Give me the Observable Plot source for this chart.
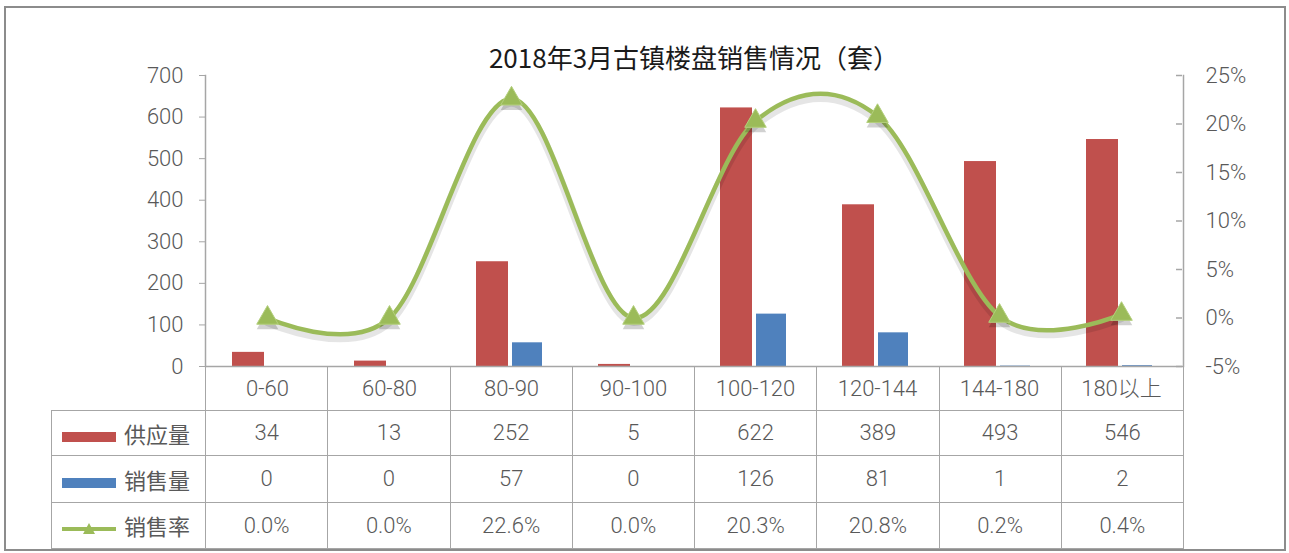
<!DOCTYPE html>
<html>
<head>
<meta charset="utf-8">
<script src="https://cdn.jsdelivr.net/npm/d3@7"></script>
<script src="https://cdn.jsdelivr.net/npm/@observablehq/plot@0.6"></script>
<style>
  body { margin: 0; background: #fff; }
  #wrap { position: relative; width: 1289px; height: 553px; overflow: hidden; background: #fff;
          font-family: Roboto, "Noto Sans CJK SC", sans-serif; }
  #frame { position: absolute; left: 4px; top: 6px; width: 1282px; height: 545px;
           border: 2.5px solid #8c8c8c; box-sizing: border-box; }
  #title { position: absolute; left: 205px; width: 978px; top: 38px; text-align: center;
           font-family: "Noto Sans CJK SC", sans-serif; font-size: 26px; color: #1a1a1a; font-weight: 400; }
  #chart { position: absolute; left: 0; top: 0; z-index: 2; }
  #tbl { position: absolute; left: 51px; top: 366px; z-index: 1; border-collapse: collapse; table-layout: fixed; }
  #tbl td { border: 1.5px solid #a6a6a6; text-align: center; font-size: 22px; color: #595959; padding: 0; font-weight: 300; }
  #tbl td.leg { text-align: left; padding-left: 10px; font-family: "Noto Sans CJK SC", sans-serif; white-space: nowrap; font-weight: 400; }
  .key { display: inline-block; width: 54px; height: 10px; vertical-align: middle; margin-right: 8px; }
</style>
</head>
<body>
<div id="wrap">
  <div id="frame"></div>
  <div id="title">2018年3月古镇楼盘销售情况（套）</div>
  <div id="chart"></div>
  <table id="tbl"></table>
</div>
<script>
const categories = ["0-60", "60-80", "80-90", "90-100", "100-120", "120-144", "144-180", "180以上"];
const supply = [34, 13, 252, 5, 622, 389, 493, 546];
const sales = [0, 0, 57, 0, 126, 81, 1, 2];
const rate = [0.0, 0.0, 22.6, 0.0, 20.3, 20.8, 0.2, 0.4];
const seriesNames = ["供应量", "销售量", "销售率"];
const leftTicks = [0, 100, 200, 300, 400, 500, 600, 700];
const rightTicks = [-5, 0, 5, 10, 15, 20, 25];

const colors = { supply: "#C0504D", sales: "#4F81BD", rate: "#9BBB59" };
const data = categories.map((c, i) => ({ cat: c, supply: supply[i], sales: sales[i], rate: rate[i] }));
// map the right (percent) axis onto the left scale domain
const toLeft = r => (r + 5) * 700 / 30;
const fromLeft = v => Math.round(v * 30 / 700 - 5);

const chart = Plot.plot({
  width: 1289, height: 410,
  marginLeft: 205, marginRight: 106, marginTop: 75, marginBottom: 44,
  style: { background: "transparent", fontFamily: "Roboto, 'Noto Sans CJK SC', sans-serif", fontSize: "22px", fontWeight: 300, color: "#595959" },
  x: { domain: categories, padding: 0, label: null },
  y: { domain: [0, 700], label: null },
  marks: [
    Plot.barY(data, { x: "cat", y: "supply", fill: colors.supply, insetLeft: 26, insetRight: 64 }),
    Plot.barY(data, { x: "cat", y: "sales", fill: colors.sales, insetLeft: 62, insetRight: 30 }),
    Plot.ruleY([0], { stroke: "#a6a6a6", strokeWidth: 1.5 }),
    Plot.frame({ anchor: "left", stroke: "#a6a6a6", strokeWidth: 1.5 }),
    Plot.frame({ anchor: "right", stroke: "#a6a6a6", strokeWidth: 1.5 }),
    Plot.axisY({ anchor: "left", ticks: leftTicks, tickSize: 6, tickPadding: 16, label: null, stroke: "#a6a6a6", fill: "#595959" }),
    Plot.axisY({ anchor: "right", ticks: rightTicks.map(toLeft), tickFormat: v => fromLeft(v) + "%", tickSize: 0, tickPadding: 22, label: null, fill: "#595959" }),
    Plot.tickY(rightTicks, { x: () => categories[categories.length - 1], y: toLeft, insetLeft: 116, stroke: "#a6a6a6", strokeWidth: 1.5 }),
    Plot.axisX({ tickSize: 0, tickPadding: 14, label: null, fill: "#595959" }),
    Plot.line(data, { x: "cat", y: d => toLeft(d.rate), curve: "cardinal", stroke: "#000", strokeOpacity: 0.1, strokeWidth: 8, dy: 4 }),
    Plot.line(data, { x: "cat", y: d => toLeft(d.rate), curve: "cardinal", stroke: colors.rate, strokeWidth: 4.5 }),
    Plot.dot(data, { x: "cat", y: d => toLeft(d.rate), symbol: "triangle", r: 8, fill: "#000", fillOpacity: 0.18, dy: 5 }),
    Plot.dot(data, { x: "cat", y: d => toLeft(d.rate), symbol: "triangle", r: 8, fill: colors.rate, stroke: "#b3cf7c", strokeWidth: 1 })
  ]
});
document.getElementById("chart").appendChild(chart);

// data table below the chart
const tbl = document.getElementById("tbl");
const colW = 978 / categories.length;
let html = `<colgroup><col style="width:154px">${categories.map(() => `<col style="width:${colW}px">`).join("")}</colgroup>`;
html += `<tr style="height:44px"><td style="border-top:none;border-left:none"></td>${categories.map(() => `<td style="border-top:none"></td>`).join("")}</tr>`;
const keySupply = `<span class="key" style="background:${colors.supply}"></span>`;
const keySales = `<span class="key" style="background:${colors.sales}"></span>`;
const keyRate = `<svg width="54" height="14" style="vertical-align:middle;margin-right:8px"><line x1="0" y1="7" x2="54" y2="7" stroke="${colors.rate}" stroke-width="4"/><path d="M27,1 L33,12 L21,12 Z" fill="${colors.rate}"/></svg>`;
const rows = [
  { h: 45, key: keySupply, name: seriesNames[0], vals: supply.map(String) },
  { h: 47, key: keySales, name: seriesNames[1], vals: sales.map(String) },
  { h: 46, key: keyRate, name: seriesNames[2], vals: rate.map(r => r.toFixed(1) + "%") }
];
for (const r of rows) {
  html += `<tr style="height:${r.h}px"><td class="leg">${r.key}${r.name}</td>${r.vals.map(v => `<td>${v}</td>`).join("")}</tr>`;
}
tbl.innerHTML = html;
</script>
</body>
</html>
